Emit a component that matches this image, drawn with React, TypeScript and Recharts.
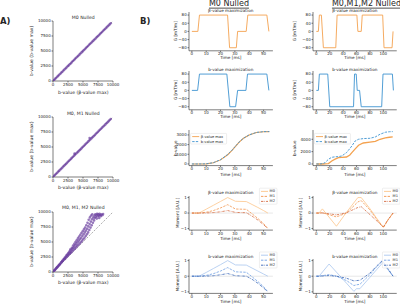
import React from "react";
import { LineChart, Line, XAxis, YAxis, ScatterChart, Scatter, ReferenceLine } from "recharts";

// ---------- A) b-value scatter plots ----------
const bTicks = [0, 2500, 5000, 7500, 10000];

const s1X = [30, 170, 340, 510, 690, 860, 1030, 1220, 1390, 1560, 1740, 1900, 2090, 2250, 2440, 2610, 2790, 2980, 3140, 3320, 3510, 3680, 3860, 4050, 4210, 4400, 4570, 4760, 4940, 5110, 5300, 5480, 5650, 5840, 6020, 6190, 6380, 6560, 6740, 6910, 7100, 7280, 7450, 7640, 7820, 7990, 8180, 8360, 8540, 8710, 8900, 9080, 9250, 9440, 9620];
const s1Y = [40, 160, 350, 500, 700, 850, 1050, 1210, 1400, 1550, 1750, 1910, 2080, 2260, 2450, 2600, 2800, 2970, 3150, 3330, 3500, 3690, 3870, 4040, 4220, 4390, 4580, 4770, 4930, 5120, 5290, 5490, 5660, 5830, 6030, 6200, 6370, 6570, 6730, 6920, 7090, 7290, 7460, 7630, 7830, 8000, 8170, 8370, 8530, 8720, 8890, 9090, 9260, 9430, 9630];

const s2X = [20, 190, 350, 530, 700, 880, 1040, 1230, 1400, 1570, 1750, 1920, 2100, 2270, 2450, 2630, 2800, 2990, 3160, 3340, 3520, 3690, 3870, 4060, 4230, 4410, 4590, 4770, 4950, 5130, 5310, 5490, 5670, 5850, 6030, 6210, 6390, 6570, 6750, 6930, 7110, 7290, 7470, 7650, 7830, 8010, 8190, 8370, 8550, 8730, 8910, 9090, 9270, 9450, 9630, 3600, 6100];
const s2Y = [30, 200, 370, 540, 720, 900, 1060, 1250, 1420, 1590, 1780, 1950, 2130, 2300, 2480, 2660, 2840, 3020, 3190, 3380, 3560, 3730, 3910, 4100, 4270, 4450, 4630, 4810, 4990, 5170, 5350, 5530, 5710, 5890, 6070, 6250, 6430, 6610, 6790, 6970, 7150, 7330, 7510, 7690, 7870, 8050, 8230, 8410, 8590, 8770, 8950, 9130, 9310, 9490, 9670, 3900, 6500];

const s3X = [
  50, 150, 250, 350, 450, 550, 650, 750, 850, 950, 300, 700,
  1050, 1150, 1250, 1350, 1450, 1550, 1650, 1750, 1850, 1950, 1100, 1500, 1900,
  2050, 2100, 2200, 2250, 2350, 2400, 2500, 2550, 2650, 2700, 2800, 2850, 2950, 2900,
  3050, 3100, 3150, 3250, 3300, 3350, 3450, 3500, 3550, 3650, 3700, 3750, 3850, 3900, 3950,
  4050, 4100, 4150, 4250, 4300, 4350, 4450, 4500, 4550, 4650, 4700, 4750, 4850, 4900, 4950,
  5050, 5100, 5150, 5250, 5300, 5350, 5450, 5500, 5550, 5650, 5700, 5750, 5850, 5900, 5950,
  6050, 6100, 6150, 6250, 6300, 6350, 6450, 6500, 6550, 6650, 6700, 6850, 6900, 6950,
  7050, 7150, 7250, 7350, 7450, 7550, 7650, 7750, 7850, 7950, 8050, 8200, 8350, 7300, 7700,
];
const s3Y = [
  60, 170, 290, 400, 520, 640, 730, 880, 980, 1100, 330, 800,
  1150, 1330, 1400, 1600, 1620, 1850, 1860, 2100, 2050, 2350, 1250, 1750, 2200,
  2250, 2550, 2450, 2800, 2600, 2950, 2750, 3150, 2900, 3350, 3050, 3550, 3200, 3800,
  3300, 3700, 4050, 3500, 3950, 4400, 3700, 4200, 4700, 3900, 4450, 5000, 4100, 4700, 5300,
  4350, 4950, 5600, 4550, 5200, 5900, 4750, 5450, 6200, 4950, 5700, 6500, 5200, 6000, 6800,
  5450, 6300, 7100, 5700, 6600, 7400, 6000, 6900, 7800, 6300, 7200, 8200, 6600, 7600, 8700,
  7000, 8000, 9100, 7400, 8400, 9400, 7800, 8800, 9600, 8200, 9100, 8600, 9400, 9000,
  9600, 9200, 9500, 9700, 9300, 9600, 9400, 9700, 9500, 9300, 9600, 9450, 9650, 8900, 9000,
];

// ---------- B) gradient waveforms G [mT/m] ----------
const gM0BetaT = [0, 4.2, 5.3, 24.9, 26.3, 31.0, 31.9, 37.9, 39.0, 52.3, 53.7];
const gM0BetaG = [0, 0, 80, 80, -80, -80, 0, 0, 80, 80, 0];
const gM0BT = [0, 4.0, 5.3, 24.4, 26.5, 30.5, 31.9, 37.7, 38.8, 52.3, 53.7];
const gM0BG = [0, 0, 80, 80, -80, -80, 0, 0, 80, 80, 0];
const gM2BetaT = [0, 3, 4.5, 7.5, 10.5, 29, 31, 60.5, 62, 67, 68.5, 99, 101, 113, 114.5];
const gM2BetaG = [0, 0, 80, 80, -80, -80, 80, 80, 0, 0, 80, 80, -80, -80, 0];
const gM2BT = [0, 3, 4.5, 17, 20, 55.5, 57, 59.5, 61, 64.5, 67, 97.5, 99.5, 113.5, 115];
const gM2BG = [0, 0, 80, 80, -80, -80, 80, 80, 0, 0, -80, -80, 80, 80, 0];

// ---------- b-value build-up ----------
const bM0T = [0, 5, 10, 15, 20, 25, 28, 30, 33, 36, 40, 45, 50, 54];
const bM0Beta = [0, 0, 10, 120, 420, 950, 1400, 1750, 2250, 2650, 3000, 3250, 3330, 3340];
const bM0B = [0, 0, 15, 130, 440, 980, 1420, 1770, 2270, 2660, 3010, 3260, 3340, 3350];
const bM2T = [0, 5, 10, 13, 18, 23, 28, 33, 38, 45, 50, 53, 58, 63, 70, 80, 88, 95, 103, 109, 114];
const bM2Beta = [0, 0, 0, 10, 60, 480, 780, 1030, 1080, 1130, 1450, 1840, 2450, 3030, 3400, 3530, 3650, 4000, 4230, 4330, 4380];
const bM2B = [0, 0, 60, 220, 760, 1080, 1160, 1190, 1300, 1840, 2500, 2920, 3730, 4000, 4110, 4160, 4380, 4810, 5140, 5220, 5240];

// ---------- gradient moments [A.U.] ----------
const mM0T = [0, 5, 10, 15, 20, 25, 30.4, 38, 42, 46, 50, 53];
const mM0BetaM0 = [0, 0, 0.25, 0.5, 0.75, 1.0, 0.76, 0.74, 0.55, 0.36, 0.16, 0];
const mM0BetaM1 = [0, 0, 0.05, 0.16, 0.33, 0.54, 0.26, 0.24, -0.05, -0.35, -0.68, -1];
const mM0BetaM2 = [0, 0, 0.005, 0.03, 0.08, 0.16, 0.04, 0.02, -0.2, -0.45, -0.75, -1];
const mM0BM0 = [0, 0, 0.24, 0.49, 0.74, 1.0, 0.72, 0.71, 0.52, 0.33, 0.14, 0];
const mM0BM1 = [0, 0, 0.05, 0.16, 0.33, 0.55, 0.28, 0.25, -0.04, -0.34, -0.67, -1];
const mM0BM2 = [0, 0, 0.005, 0.03, 0.09, 0.17, 0.03, 0.0, -0.2, -0.45, -0.75, -1];

const mM2BetaT = [0, 4, 9, 20, 30, 45, 62, 67, 80, 90, 100, 107, 114.5];
const mM2BetaM0 = [0, 0, 0.27, -0.32, -0.85, 0.05, 1.0, 1.0, 0.28, -0.33, -0.93, -0.43, 0];
const mM2BetaM1 = [0, 0, 0.02, -0.12, -0.25, 0.0, 0.72, 0.8, 0.2, -0.4, -0.93, -0.45, 0];
const mM2BetaM2 = [0, 0, 0.005, -0.05, -0.12, 0.02, 0.36, 0.41, -0.1, -0.5, -0.9, -0.43, 0];
const mM2BT = [0, 4, 19, 30, 45, 56, 60, 65, 80, 90, 98.5, 107, 114.5];
const mM2BM0 = [0, 0, 0.78, 0.26, -0.45, -0.97, -0.8, -0.8, -0.07, 0.42, 0.83, 0.4, 0];
const mM2BM1 = [0, 0, 0.1, 0.0, -0.28, -0.6, -0.55, -0.52, 0.1, 0.6, 0.95, 0.45, 0];
const mM2BM2 = [0, 0, 0.04, 0.0, -0.13, -0.3, -0.28, -0.26, 0.2, 0.65, 1.0, 0.48, 0];

// ---------- styling ----------
const FONT = "'DejaVu Sans', sans-serif";
const AX = "#262626";
const PURPLE = "#6a3d9e";
const ORANGE = "#f4a24f";
const BLUE = "#3d93d0";
const OR = ["#fcc58a", "#f3964e", "#d4683f"];
const BL = ["#a9c6ef", "#6f9fe3", "#3563b5"];
const DASH = "2.4 1.2";
const DASHDOT = "2.4 1 0.7 1";
const BETA = "\u03b2";

const tickStyle = { fontSize: 4, fill: AX, fontFamily: FONT };
const axisStyle = { stroke: AX, strokeWidth: 0.6 };
const fmt = (v: number) => String(v).replace("-", "\u2212");
const rows = (t: number[], v: number[]) => t.map((x, i) => ({ t: x, v: v[i] }));

type Ser = { t: number[]; v: number[]; color: string; dash?: string; w?: number };

const YW = 24, XH = 9, PAD = 2;

function Panel(p: {
  x: number; y: number; w: number; h: number;
  xDomain: number[]; xTicks: number[]; yDomain: number[]; yTicks: number[];
  series: Ser[]; zero?: boolean;
}) {
  return (
    <div style={{ position: "absolute", left: p.x - YW, top: p.y - PAD }}>
      <LineChart width={YW + p.w + 8} height={PAD + p.h + XH} margin={{ top: PAD, right: 8, bottom: 0, left: 0 }}>
        <XAxis type="number" dataKey="t" domain={p.xDomain} ticks={p.xTicks} allowDataOverflow interval={0}
          height={XH} tick={tickStyle} tickSize={1.5} tickMargin={0.3} axisLine={axisStyle} tickLine={axisStyle} tickFormatter={fmt} />
        <YAxis type="number" domain={p.yDomain} ticks={p.yTicks} allowDataOverflow interval={0}
          width={YW} tick={tickStyle} tickSize={1.5} tickMargin={0.8} axisLine={axisStyle} tickLine={axisStyle} tickFormatter={fmt} />
        {p.zero && <ReferenceLine y={0} stroke="#d6d6d6" strokeWidth={0.6} />}
        {p.series.map((s, i) => (
          <Line key={i} data={rows(s.t, s.v)} dataKey="v" type="linear" stroke={s.color} strokeWidth={s.w ?? 0.9}
            strokeDasharray={s.dash} dot={false} activeDot={false} isAnimationActive={false} />
        ))}
      </LineChart>
    </div>
  );
}

const SX = 53.3, SW = 60, SYW = 24;
const dot = (p: any) => <circle cx={p.cx} cy={p.cy} r={1.3} fill={PURPLE} fillOpacity={0.7} />;

function BPanel({ y, xs, ys }: { y: number; xs: number[]; ys: number[] }) {
  const data = xs.map((v, i) => ({ x: v, y: ys[i] }));
  return (
    <div style={{ position: "absolute", left: SX - SYW, top: y - PAD }}>
      <ScatterChart width={SYW + SW + 10} height={PAD + SW + XH} margin={{ top: PAD, right: 10, bottom: 0, left: 0 }}>
        <XAxis type="number" dataKey="x" domain={[0, 10000]} ticks={bTicks} allowDataOverflow interval={0}
          height={XH} tick={tickStyle} tickSize={1.5} tickMargin={0.3} axisLine={axisStyle} tickLine={axisStyle} />
        <YAxis type="number" dataKey="y" domain={[0, 10000]} ticks={bTicks} allowDataOverflow interval={0}
          width={SYW} tick={tickStyle} tickSize={1.5} tickMargin={0.8} axisLine={axisStyle} tickLine={axisStyle} />
        <ReferenceLine segment={[{ x: 0, y: 0 }, { x: 10000, y: 10000 }]} stroke="#777" strokeWidth={0.6} strokeDasharray="2 1.4" />
        <Scatter data={data} fill={PURPLE} shape={dot} isAnimationActive={false} />
      </ScatterChart>
    </div>
  );
}

function T({ x, y, s = 4.2, rot, anchor = "middle", bold, under, children }: any) {
  return (
    <text x={x} y={y} fontSize={s} fontFamily={FONT} fill={AX} textAnchor={anchor} dominantBaseline="central"
      fontWeight={bold ? "bold" : "normal"} style={under ? { textDecoration: "underline" } : undefined}
      transform={rot ? `rotate(-90 ${x} ${y})` : undefined}>{children}</text>
  );
}

function Leg({ x, y, w, h, items }: { x: number; y: number; w: number; h: number; items: { label: string; color: string; dash?: string }[] }) {
  return (
    <g>
      <rect x={x} y={y} width={w} height={h} rx={0.8} fill="#fff" fillOpacity={0.85} stroke="#dcdcdc" strokeWidth={0.5} />
      {items.map((it, i) => (
        <g key={i}>
          <line x1={x + 1.6} x2={x + 8.6} y1={y + 3.2 + i * 5} y2={y + 3.2 + i * 5} stroke={it.color} strokeWidth={0.9} strokeDasharray={it.dash} />
          <T x={x + 10.2} y={y + 3.2 + i * 5} s={3.6} anchor="start">{it.label}</T>
        </g>
      ))}
    </g>
  );
}

// column geometry (plot areas)
const C1 = { x: 188.8, w: 83.9, dom: [-2, 56.5], ticks: [0, 10, 20, 30, 40, 50] };
const C2 = { x: 313.0, w: 83.75, dom: [-5, 120], ticks: [0, 20, 40, 60, 80, 100] };
const R1 = { y: 11.8, h: 38.8 };
const R2 = { y: 70.6, h: 38.8 };
const R3 = { y: 130.4, h: 35.6 };
const R4 = { y: 195.75, h: 34.1 };
const R5 = { y: 259.1, h: 34.4 };
const gDom = [-95, 95], gTicks = [-80, -40, 0, 40, 80];
const mDom = [-1.1, 1.1], mTicks = [-1, 0, 1];

export default function App() {
  const cx1 = C1.x + C1.w / 2, cx2 = C2.x + C2.w / 2;
  const momLeg = (c: string[]) => [
    { label: "M0", color: c[0] },
    { label: "M1", color: c[1], dash: DASH },
    { label: "M2", color: c[2], dash: DASHDOT },
  ];
  const bLeg = [
    { label: `${BETA}-value max`, color: ORANGE },
    { label: "b-value max", color: BLUE, dash: DASH },
  ];
  return (
    <div style={{ position: "fixed", left: 0, top: 0, width: 400, height: 304, background: "#fff", overflow: "hidden" }}>
      <BPanel y={21} xs={s1X} ys={s1Y} />
      <BPanel y={116.7} xs={s2X} ys={s2Y} />
      <BPanel y={211.7} xs={s3X} ys={s3Y} />

      <Panel x={C1.x} w={C1.w} y={R1.y} h={R1.h} xDomain={C1.dom} xTicks={C1.ticks} yDomain={gDom} yTicks={gTicks}
        series={[{ t: gM0BetaT, v: gM0BetaG, color: ORANGE }]} />
      <Panel x={C2.x} w={C2.w} y={R1.y} h={R1.h} xDomain={C2.dom} xTicks={C2.ticks} yDomain={gDom} yTicks={gTicks}
        series={[{ t: gM2BetaT, v: gM2BetaG, color: ORANGE }]} />
      <Panel x={C1.x} w={C1.w} y={R2.y} h={R2.h} xDomain={C1.dom} xTicks={C1.ticks} yDomain={gDom} yTicks={gTicks}
        series={[{ t: gM0BT, v: gM0BG, color: BLUE }]} />
      <Panel x={C2.x} w={C2.w} y={R2.y} h={R2.h} xDomain={C2.dom} xTicks={C2.ticks} yDomain={gDom} yTicks={gTicks}
        series={[{ t: gM2BT, v: gM2BG, color: BLUE }]} />

      <Panel x={C1.x} w={C1.w} y={R3.y} h={R3.h} xDomain={C1.dom} xTicks={C1.ticks} yDomain={[-170, 3510]} yTicks={[0, 1000, 2000, 3000]}
        series={[{ t: bM0T, v: bM0Beta, color: ORANGE, w: 1.1 }, { t: bM0T, v: bM0B, color: BLUE, dash: DASH }]} />
      <Panel x={C2.x} w={C2.w} y={R3.y} h={R3.h} xDomain={C2.dom} xTicks={C2.ticks} yDomain={[-262, 5502]} yTicks={[0, 2000, 4000]}
        series={[{ t: bM2T, v: bM2Beta, color: ORANGE, w: 1.3 }, { t: bM2T, v: bM2B, color: BLUE, dash: DASH }]} />

      <Panel x={C1.x} w={C1.w} y={R4.y} h={R4.h} xDomain={C1.dom} xTicks={C1.ticks} yDomain={mDom} yTicks={mTicks} zero
        series={[
          { t: mM0T, v: mM0BetaM0, color: OR[0], w: 0.8 },
          { t: mM0T, v: mM0BetaM1, color: OR[1], dash: DASH, w: 0.8 },
          { t: mM0T, v: mM0BetaM2, color: OR[2], dash: DASHDOT, w: 0.8 },
        ]} />
      <Panel x={C2.x} w={C2.w} y={R4.y} h={R4.h} xDomain={C2.dom} xTicks={C2.ticks} yDomain={mDom} yTicks={mTicks} zero
        series={[
          { t: mM2BetaT, v: mM2BetaM0, color: OR[0], w: 0.8 },
          { t: mM2BetaT, v: mM2BetaM1, color: OR[1], dash: DASH, w: 0.8 },
          { t: mM2BetaT, v: mM2BetaM2, color: OR[2], dash: DASHDOT, w: 0.8 },
        ]} />
      <Panel x={C1.x} w={C1.w} y={R5.y} h={R5.h} xDomain={C1.dom} xTicks={C1.ticks} yDomain={mDom} yTicks={mTicks} zero
        series={[
          { t: mM0T, v: mM0BM0, color: BL[0], w: 0.8 },
          { t: mM0T, v: mM0BM1, color: BL[1], dash: DASH, w: 0.8 },
          { t: mM0T, v: mM0BM2, color: BL[2], dash: DASHDOT, w: 0.8 },
        ]} />
      <Panel x={C2.x} w={C2.w} y={R5.y} h={R5.h} xDomain={C2.dom} xTicks={C2.ticks} yDomain={mDom} yTicks={mTicks} zero
        series={[
          { t: mM2BT, v: mM2BM0, color: BL[0], w: 0.8 },
          { t: mM2BT, v: mM2BM1, color: BL[1], dash: DASH, w: 0.8 },
          { t: mM2BT, v: mM2BM2, color: BL[2], dash: DASHDOT, w: 0.8 },
        ]} />

      <svg width={400} height={304} style={{ position: "absolute", left: 0, top: 0, pointerEvents: "none" }}>
        <T x={0} y={20.5} s={8.5} anchor="start" bold>A)</T>
        <T x={140} y={20.5} s={8.5} anchor="start" bold>B)</T>

        <T x={83.3} y={17} s={4.6}>M0 Nulled</T>
        <T x={83.3} y={113} s={4.6}>M0, M1 Nulled</T>
        <T x={83.3} y={207.5} s={4.6}>M0, M1, M2 Nulled</T>
        {[51, 146.7, 241.7].map((y) => <T key={y} x={31.5} y={y} s={4.6} rot>b-value (b-value max)</T>)}
        {[92.2, 187.7, 282].map((y) => <T key={y} x={83.3} y={y} s={4.6}>{`b-value (${BETA}-value max)`}</T>)}

        <T x={229} y={3.2} s={8} under>M0 Nulled</T>
        <T x={366.5} y={3.2} s={8} under>M0,M1,M2 Nulled</T>

        {[cx1, cx2].map((x) => (
          <g key={x}>
            <T x={x} y={10.4}>{`${BETA}-value maximization`}</T>
            <T x={x} y={69.5}>b-value maximization</T>
            <T x={x} y={192.6}>{`${BETA}-value maximization`}</T>
            <T x={x} y={256.4}>b-value maximization</T>
            {[57.3, 116.6, 174.3, 238.3, 301.6].map((y) => <T key={y} x={x} y={y}>Time [ms]</T>)}
          </g>
        ))}
        {[[175.5, 178], [294.5, 301]].map(([gx, mx]) => (
          <g key={gx}>
            <T x={gx} y={31.2} rot>G [mT/m]</T>
            <T x={gx} y={90} rot>G [mT/m]</T>
            <T x={gx} y={148.2} rot>b-value</T>
            <T x={mx} y={212.8} rot>Moment [A.U.]</T>
            <T x={mx} y={276.3} rot>Moment [A.U.]</T>
          </g>
        ))}

        <Leg x={190.6} y={133.4} w={36} h={10.6} items={bLeg} />
        <Leg x={314.4} y={133.4} w={36} h={10.6} items={bLeg} />
        <Leg x={259.4} y={188.2} w={17.6} h={16} items={momLeg(OR)} />
        <Leg x={382.4} y={188.2} w={17.6} h={16} items={momLeg(OR)} />
        <Leg x={259.4} y={252} w={17.6} h={16} items={momLeg(BL)} />
        <Leg x={382.4} y={252} w={17.6} h={16} items={momLeg(BL)} />
      </svg>
    </div>
  );
}
